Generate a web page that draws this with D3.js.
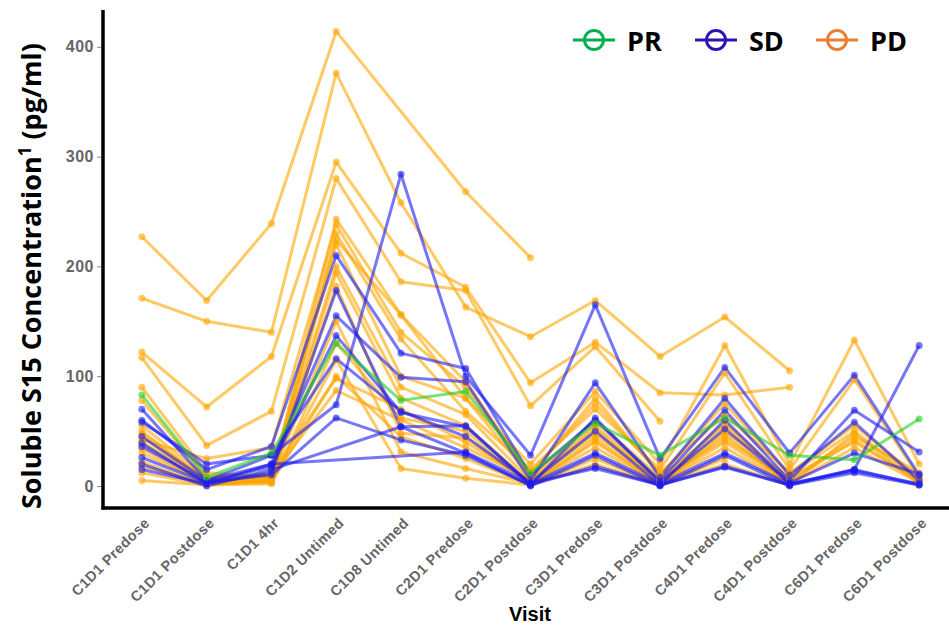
<!DOCTYPE html>
<html>
<head>
<meta charset="utf-8">
<script src="https://cdn.jsdelivr.net/npm/d3@7"></script>
<style>
	body { margin: 0; background: white; }
	svg { display: block; }
</style>
</head>
<body>
<svg id="plot" width="949" height="627"></svg>
<script>

function whenDocumentLoaded(action) {
	if (document.readyState === "loading") {
		document.addEventListener("DOMContentLoaded", action);
	} else {
		action();
	}
}

const VISITS = ['C1D1 Predose', 'C1D1 Postdose', 'C1D1 4hr', 'C1D2 Untimed', 'C1D8 Untimed',
	'C2D1 Predose', 'C2D1 Postdose', 'C3D1 Predose', 'C3D1 Postdose', 'C4D1 Predose',
	'C4D1 Postdose', 'C6D1 Predose', 'C6D1 Postdose'];
const Y_TICKS = [0, 100, 200, 300, 400];
const RESPONSES = ['PR', 'SD', 'PD'];

// one row per patient, one value per visit (null = not sampled)
const PR_PATIENTS = [
	[83, 8, 30, 130, 78, 86, 12, 57, 28, 62, 28, 24, 61]
];
const SD_PATIENTS = [
	[58, 20, 28, 74, 284, 100, 28, 165, 25, 108, 30, 101, 10],
	[60, 15, 36, 210, 121, 107, 10, 60, 5, 69, 5, 69, 31],
	[26, 3, 18, 137, 67, 54, 2, 30, 2, 30, 2, 15, 128],
	[15, 2, 20, null, null, 31, 3, 16, 1, 18, 1, 15, 1],
	[70, 5, 20, 155, 99, 95, 5, 94, 8, 80, 10, 58, 5],
	[39, 2, 12, 178, 54, 55, 1, 62, 3, 52, 3, 30, 11],
	[45, 5, 28, 116, 68, 45, 3, 50, 1, 60, 2, 14, 2],
	[20, 0, 15, null, 54, 30, 0, 28, 0, 28, 0, null, null],
	[36, 4, 10, 62, 42, 28, 1, 18, 1, 17, 1, 12, 1]
];
const PD_PATIENTS = [
	[227, 169, 239, 414, null, 268, 208, null, null, null, null, null, null],
	[171, 150, 140, 376, 258, 163, 136, 169, 118, 154, 105, null, null],
	[122, 72, 118, 295, 212, 181, 94, 131, 85, 83, 90, null, null],
	[117, 37, 68, 280, 186, 178, 73, 127, 59, null, null, null, null],
	[90, 12, 8, 243, 156, 80, 20, 86, 20, 128, 20, 133, 20],
	[78, 8, 10, 230, 134, 68, 15, 70, 15, 103, 15, 97, 8],
	[50, 5, 6, 224, 156, 95, 10, 80, 10, 75, 10, 50, 5],
	[45, 3, 5, 220, 100, 80, 8, 60, 8, 55, 5, 45, 12],
	[34, 2, 8, 200, 90, 65, 5, 55, 5, 50, 8, 40, 5],
	[22, 1, 5, 194, 80, 55, 3, 45, 3, 45, 3, null, null],
	[5, 1, 5, 182, 48, 44, 2, 40, 2, 40, 2, 35, 3],
	[40, 4, 7, 150, 31, 16, 2, 35, 2, 35, 1, null, null],
	[30, 3, 4, 115, 16, 7, 1, 25, 1, 25, null, null, null],
	[48, 6, 12, 98, 70, 40, 4, 52, 4, 58, 4, 42, 4],
	[55, 8, 9, 87, 60, 35, 6, 48, 6, 42, 6, null, null],
	[42, 25, 35, 238, 140, 90, 12, 75, 12, 65, 12, 55, 8],
	[18, 2, 3, 100, 45, 25, 1, 20, 1, 20, 1, null, null],
	[12, 1, 2, 130, 62, 50, 1, 42, 1, 48, 1, 48, 2]
];

class SpaghettiPlot {

	constructor(plotId, patients) {
		this.svg = d3.select(`#${plotId}`);
		this.patients = patients;
		this.scaleX = d3.scalePoint()
			.domain(VISITS)
			.range([SpaghettiPlot.LEFT, SpaghettiPlot.RIGHT])
			.padding(0.6);
		this.scaleY = d3.scaleLinear()
			.domain([-20, 433.5])
			.range([SpaghettiPlot.BOTTOM, SpaghettiPlot.TOP]);
	}

	redraw() {
		const svg = this.svg;
		const line = d3.line()
			.x(d => this.scaleX(d.visit))
			.y(d => this.scaleY(d.value));

		// all lines first, then all points (like geom_line + geom_point)
		svg.append('g')
			.selectAll('path')
			.data(this.patients)
			.enter()
			.append('path')
				.attr('d', p => line(p.points))
				.attr('fill', 'none')
				.attr('stroke', p => SpaghettiPlot.LINE_COLORS[p.response])
				.attr('stroke-opacity', 0.6)
				.attr('stroke-width', 3)
				.attr('stroke-linejoin', 'round');

		const allPoints = this.patients.flatMap(p => p.points.map(pt => ({...pt, response: p.response})));
		svg.append('g')
			.selectAll('circle')
			.data(allPoints)
			.enter()
			.append('circle')
				.attr('cx', d => this.scaleX(d.visit))
				.attr('cy', d => this.scaleY(d.value))
				.attr('r', 3.5)
				.attr('fill', d => SpaghettiPlot.LINE_COLORS[d.response])
				.attr('fill-opacity', 0.6);

		// y axis
		const yAxis = d3.axisLeft(this.scaleY)
			.tickValues(Y_TICKS)
			.tickSize(4)
			.tickPadding(3);
		const gy = svg.append('g')
			.attr('transform', `translate(${SpaghettiPlot.LEFT - 2},0)`)
			.call(yAxis);
		gy.select('.domain').remove();
		gy.selectAll('line').attr('stroke', '#8a8a8a');
		gy.selectAll('text')
			.attr('fill', '#666')
			.style('font', 'bold 16px "Liberation Sans", Arial, sans-serif')
			.style('letter-spacing', '0.5px');

		// x axis labels
		const xAxis = d3.axisBottom(this.scaleX).tickSize(0).tickPadding(0);
		const gx = svg.append('g')
			.attr('transform', `translate(0,${SpaghettiPlot.BOTTOM})`)
			.call(xAxis);
		gx.select('.domain').remove();
		gx.selectAll('text')
			.attr('fill', '#666')
			.attr('text-anchor', 'end')
			.attr('dy', 0)
			.attr('y', 0)
			.attr('transform', 'translate(8,16) rotate(-45)')
			.style('font', 'bold 14.5px "Liberation Sans", Arial, sans-serif')
			.style('letter-spacing', '0.4px');

		// axis lines
		svg.append('line')
			.attr('x1', SpaghettiPlot.LEFT).attr('x2', SpaghettiPlot.LEFT)
			.attr('y1', SpaghettiPlot.TOP).attr('y2', SpaghettiPlot.BOTTOM + 1.5)
			.attr('stroke', 'black').attr('stroke-width', 3.5);
		svg.append('line')
			.attr('x1', SpaghettiPlot.LEFT - 1.5).attr('x2', 949)
			.attr('y1', SpaghettiPlot.BOTTOM).attr('y2', SpaghettiPlot.BOTTOM)
			.attr('stroke', 'black').attr('stroke-width', 3.5);

		// titles
		svg.append('text')
			.attr('x', 530)
			.attr('y', 621)
			.attr('text-anchor', 'middle')
			.style('font', 'bold 20px "Liberation Sans", Arial, sans-serif')
			.text('Visit');

		const yTitle = svg.append('text')
			.attr('transform', 'translate(41,276) rotate(-90)')
			.attr('text-anchor', 'middle')
			.attr('textLength', 466)
			.attr('lengthAdjust', 'spacingAndGlyphs')
			.style('font', 'bold 27px "Open Sans", sans-serif');
		yTitle.append('tspan').text('Soluble S15 Concentration');
		yTitle.append('tspan').attr('dy', -10).style('font-size', '17px').text('1');
		yTitle.append('tspan').attr('dy', 10).text(' (pg/ml)');

		// legend
		const legend = svg.append('g')
			.selectAll('g')
			.data(RESPONSES)
			.enter()
			.append('g')
				.attr('transform', (d, i) => `translate(${SpaghettiPlot.LEGEND_X[i]},40)`);
		legend.append('line')
			.attr('x1', -21).attr('x2', 21)
			.attr('stroke', d => SpaghettiPlot.LEGEND_COLORS[d])
			.attr('stroke-width', 3);
		legend.append('circle')
			.attr('r', 9.5)
			.attr('fill', 'none')
			.attr('stroke', d => SpaghettiPlot.LEGEND_COLORS[d])
			.attr('stroke-width', 3);
		legend.append('text')
			.attr('x', 33)
			.attr('y', 11)
			.style('font', 'bold 27px "Open Sans", sans-serif')
			.text(d => d);
	}
}

SpaghettiPlot.LEFT = 103;
SpaghettiPlot.RIGHT = 958;
SpaghettiPlot.TOP = 10;
SpaghettiPlot.BOTTOM = 508;
SpaghettiPlot.LINE_COLORS = { PR: '#1ed01e', SD: '#1a1af0', PD: '#ffa500' };
SpaghettiPlot.LEGEND_COLORS = { PR: '#00b050', SD: '#2e14b0', PD: '#ed7d31' };
SpaghettiPlot.LEGEND_X = [594, 716, 837];

whenDocumentLoaded(() => {

	const toPoints = row => row
		.map((value, index) => ({ visit: VISITS[index], value: value }))
		.filter(d => d.value !== null);

	// PD drawn first, SD and PR on top
	const patients = [
		...PD_PATIENTS.map(row => ({ response: 'PD', points: toPoints(row) })),
		...SD_PATIENTS.map(row => ({ response: 'SD', points: toPoints(row) })),
		...PR_PATIENTS.map(row => ({ response: 'PR', points: toPoints(row) }))
	];

	const plot = new SpaghettiPlot('plot', patients);
	plot.redraw();
});

</script>
</body>
</html>
